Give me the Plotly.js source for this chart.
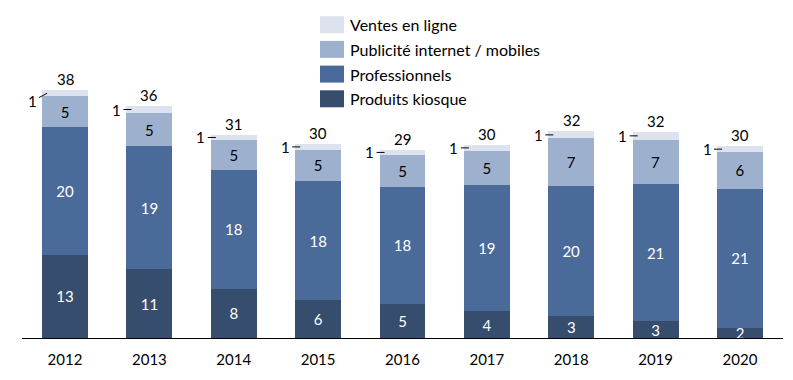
<!DOCTYPE html>
<html>
<head>
<meta charset="utf-8">
<script src="https://cdn.plot.ly/plotly-3.0.1.min.js"></script>
<style>html,body{margin:0;padding:0;background:#fff;}#chart{width:793px;height:380px;}</style>
</head>
<body>
<div id="chart"></div>
<script>
const years = ['2012','2013','2014','2015','2016','2017','2018','2019','2020'];
const kiosque = [12.8, 10.6, 7.6, 5.9, 5.3, 4.1, 3.4, 2.6, 1.6];
const pro     = [19.6, 18.9, 18.2, 18.2, 18.0, 19.4, 20.0, 21.1, 21.4];
const pub     = [4.8, 5.1, 4.6, 4.9, 4.8, 5.3, 7.3, 6.8, 5.6];
const ventes  = [0.9, 1.1, 0.9, 0.8, 0.9, 0.9, 1.1, 1.2, 0.9];
const totals  = [38, 36, 31, 30, 29, 30, 32, 32, 30];
const ventesLabels = ['1','1','1','1','1','1','1','1','1'];
const seriesNames = ['Produits kiosque','Professionnels','Publicité internet / mobiles','Ventes en ligne'];

const colors = ['#364d6e', '#4a6a9a', '#9db0cd', '#dde3ee'];
const FONT = 'Lato, "Open Sans", sans-serif';
const FS = 15;

const W = 793, H = 380;
const M = {l: 22, r: 10, t: 10, b: 42};
const plotH = H - M.t - M.b, plotW = W - M.l - M.r;
const px2x = px => (px - M.l) / plotW;
const px2y = py => (H - M.b - py) / plotH;

function barTrace(name, vals, color, textColor, showText) {
  return {
    type: 'bar', name: name, x: years, y: vals,
    marker: {color: color, line: {width: 0}},
    texttemplate: showText ? '%{y:.0f}' : '',
    textposition: showText ? 'inside' : 'none',
    insidetextanchor: 'middle',
    textangle: 0,
    textfont: {family: FONT, size: FS, color: textColor},
    showlegend: false, hoverinfo: 'x+y+name'
  };
}

const data = [
  barTrace(seriesNames[0], kiosque, colors[0], '#ffffff', true),
  barTrace(seriesNames[1], pro, colors[1], '#ffffff', true),
  barTrace(seriesNames[2], pub, colors[2], '#000000', true),
  barTrace(seriesNames[3], ventes, colors[3], '#000000', false)
];

const annotations = [];
const shapes = [];
const halfBar = 0.2725;
years.forEach((yr, i) => {
  const top = kiosque[i] + pro[i] + pub[i] + ventes[i];
  annotations.push({
    x: i, y: top, xref: 'x', yref: 'y', text: String(totals[i]),
    showarrow: false, yanchor: 'bottom', yshift: 0,
    font: {family: FONT, size: FS, color: '#000'}
  });
  const mid = kiosque[i] + pro[i] + pub[i] + ventes[i] / 2;
  const first = i === 0;
  annotations.push({
    x: i - halfBar + 0.06, y: mid, xref: 'x', yref: 'y', text: ventesLabels[i],
    showarrow: true, arrowhead: 0, arrowwidth: 1, arrowcolor: '#000',
    ax: first ? -15 : -15, ay: first ? 8 : 0, standoff: 0, startstandoff: 1,
    font: {family: FONT, size: FS, color: '#000'}
  });
});

// custom legend (top to bottom)
const legendRows = [
  {name: seriesNames[3], color: colors[3]},
  {name: seriesNames[2], color: colors[2]},
  {name: seriesNames[1], color: colors[1]},
  {name: seriesNames[0], color: colors[0]}
];
legendRows.forEach((r, k) => {
  const cy = 24.7 + k * 24.7;
  shapes.push({
    type: 'rect', xref: 'paper', yref: 'paper',
    x0: px2x(320), x1: px2x(344), y0: px2y(cy - 8.5), y1: px2y(cy + 8.5),
    fillcolor: r.color, line: {width: 0}
  });
  annotations.push({
    xref: 'paper', yref: 'paper', x: px2x(348), y: px2y(cy),
    xanchor: 'left', yanchor: 'middle', showarrow: false, text: r.name,
    font: {family: FONT, size: 16, color: '#000'}
  });
});

const layout = {
  width: W, height: H,
  margin: M,
  paper_bgcolor: '#fff', plot_bgcolor: '#fff',
  barmode: 'stack', bargap: 0.455,
  showlegend: false,
  font: {family: FONT, size: FS, color: '#000'},
  uniformtext: {mode: 'show', minsize: FS},
  xaxis: {
    type: 'category', range: [-0.51, 8.51],
    showline: true, linecolor: '#000', linewidth: 1,
    ticks: 'outside', ticklen: 8, tickcolor: 'rgba(0,0,0,0)',
    tickfont: {family: FONT, size: FS, color: '#000'},
    showgrid: false, zeroline: false, fixedrange: true
  },
  yaxis: {
    range: [0, plotH / 6.5],
    visible: false, showgrid: false, zeroline: false, fixedrange: true
  },
  annotations: annotations,
  shapes: shapes
};

Plotly.newPlot('chart', data, layout, {displayModeBar: false, staticPlot: true});
</script>
</body>
</html>
